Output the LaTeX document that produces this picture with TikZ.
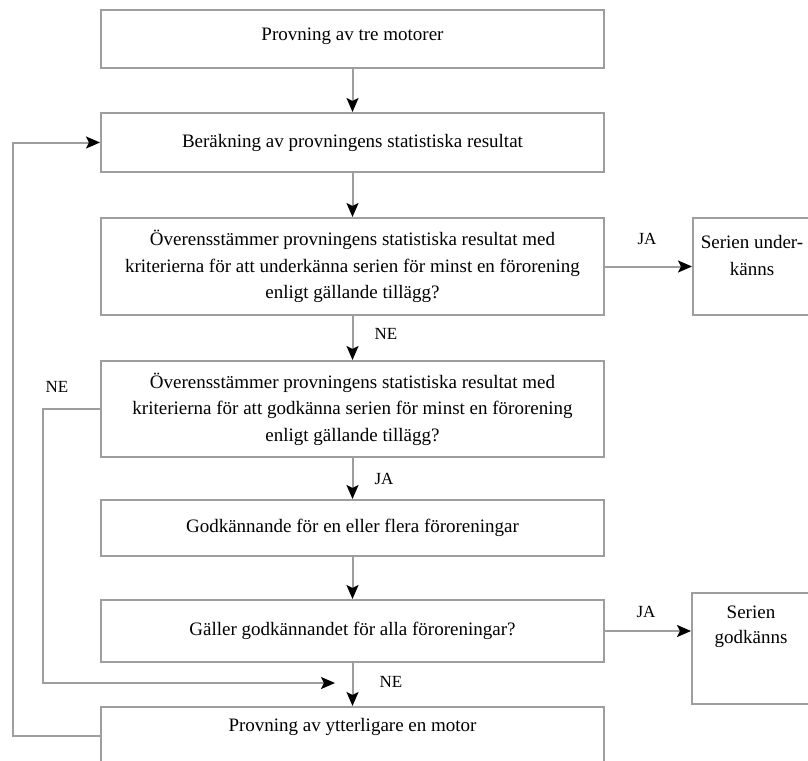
\documentclass[tikz,border=0pt]{standalone}
\usepackage{fontspec}
\setmainfont{Liberation Serif}
\usetikzlibrary{arrows.meta}
\begin{document}
\begin{tikzpicture}[x=1pt,y=-1pt,
  box/.style={draw=black!38, line width=2pt, align=center, inner sep=0pt,
    font=\fontsize{19}{26.5}\selectfont},
  mainbox/.style={box, minimum width=503pt},
  sidebox/.style={box, minimum width=118pt},
  flow/.style={draw=black!38, line width=2pt,
    -{Stealth[length=14pt,width=12pt,inset=3pt,black]}},
  lab/.style={font=\fontsize{17}{19}\selectfont, inner sep=0pt}]
\useasboundingbox (0,0) rectangle (808,760);
\clip (0,0) rectangle (808,760);

% main column
\node[mainbox, minimum height=58pt] (b1) at (352.5,39)
  {\raisebox{3pt}[\height][\depth]{Provning av tre motorer}};
\node[mainbox, minimum height=59pt] (b2) at (352.5,142.5)
  {Beräkning av provningens statistiska resultat};
\node[mainbox, minimum height=97pt] (b3) at (352.5,266.5)
  {Överensstämmer provningens statistiska resultat med\\
   kriterierna för att underkänna serien för minst en förorening\\
   enligt gällande tillägg?};
\node[mainbox, minimum height=96pt] (b4) at (352.5,409)
  {Överensstämmer provningens statistiska resultat med\\
   kriterierna för att godkänna serien för minst en förorening\\
   enligt gällande tillägg?};
\node[mainbox, minimum height=56pt] (b5) at (352.5,528)
  {Godkännande för en eller flera föroreningar};
\node[mainbox, minimum height=62pt] (b6) at (352.5,631)
  {Gäller godkännandet för alla föroreningar?};
\node[mainbox, minimum height=58pt] (b7) at (352.5,736)
  {\raisebox{9pt}[\height][\depth]{Provning av ytterligare en motor}};

% outcome boxes
\node[sidebox, minimum height=97pt] (su) at (752,266.5)
  {\raisebox{11pt}[\height][\depth]{\parbox{116pt}{\centering Serien under-\\känns}}};
\node[sidebox, minimum height=111pt] (sg) at (751,648.5)
  {\raisebox{22pt}[\height][\depth]{\parbox{116pt}{\centering\baselineskip=25pt Serien\\godkänns}}};

% routing points
\coordinate (outer) at (13,0);
\coordinate (inner) at (43,0);
\coordinate (merge) at (335,683);

% vertical flow
\draw[flow] (b1) -- (b2);
\draw[flow] (b2) -- (b3);
\draw[flow] (b3) -- (b4);
\draw[flow] (b4) -- (b5);
\draw[flow] (b5) -- (b6);
\draw[flow] (b6) -- (b7);

% outcomes
\draw[flow] (b3.east) -- (b3.east -| su.west);
\draw[flow] (b6.east) -- (b6.east -| sg.west);

% loops back
\draw[flow] (b4.west) -- (b4.west -| inner) -- (inner |- merge) -- (merge);
\draw[flow] (b7.west) -- (b7.west -| outer) -- (outer |- b2.west) -- (b2.west);

% branch labels
\node[lab] (ja1) at (647,239) {JA};
\node[lab] (ne1) at (386,334) {NE};
\node[lab] (ne2) at (57,387) {NE};
\node[lab] (ja2) at (384,479) {JA};
\node[lab] (ja3) at (646,612) {JA};
\node[lab] (ne3) at (391,682) {NE};
\end{tikzpicture}
\end{document}
